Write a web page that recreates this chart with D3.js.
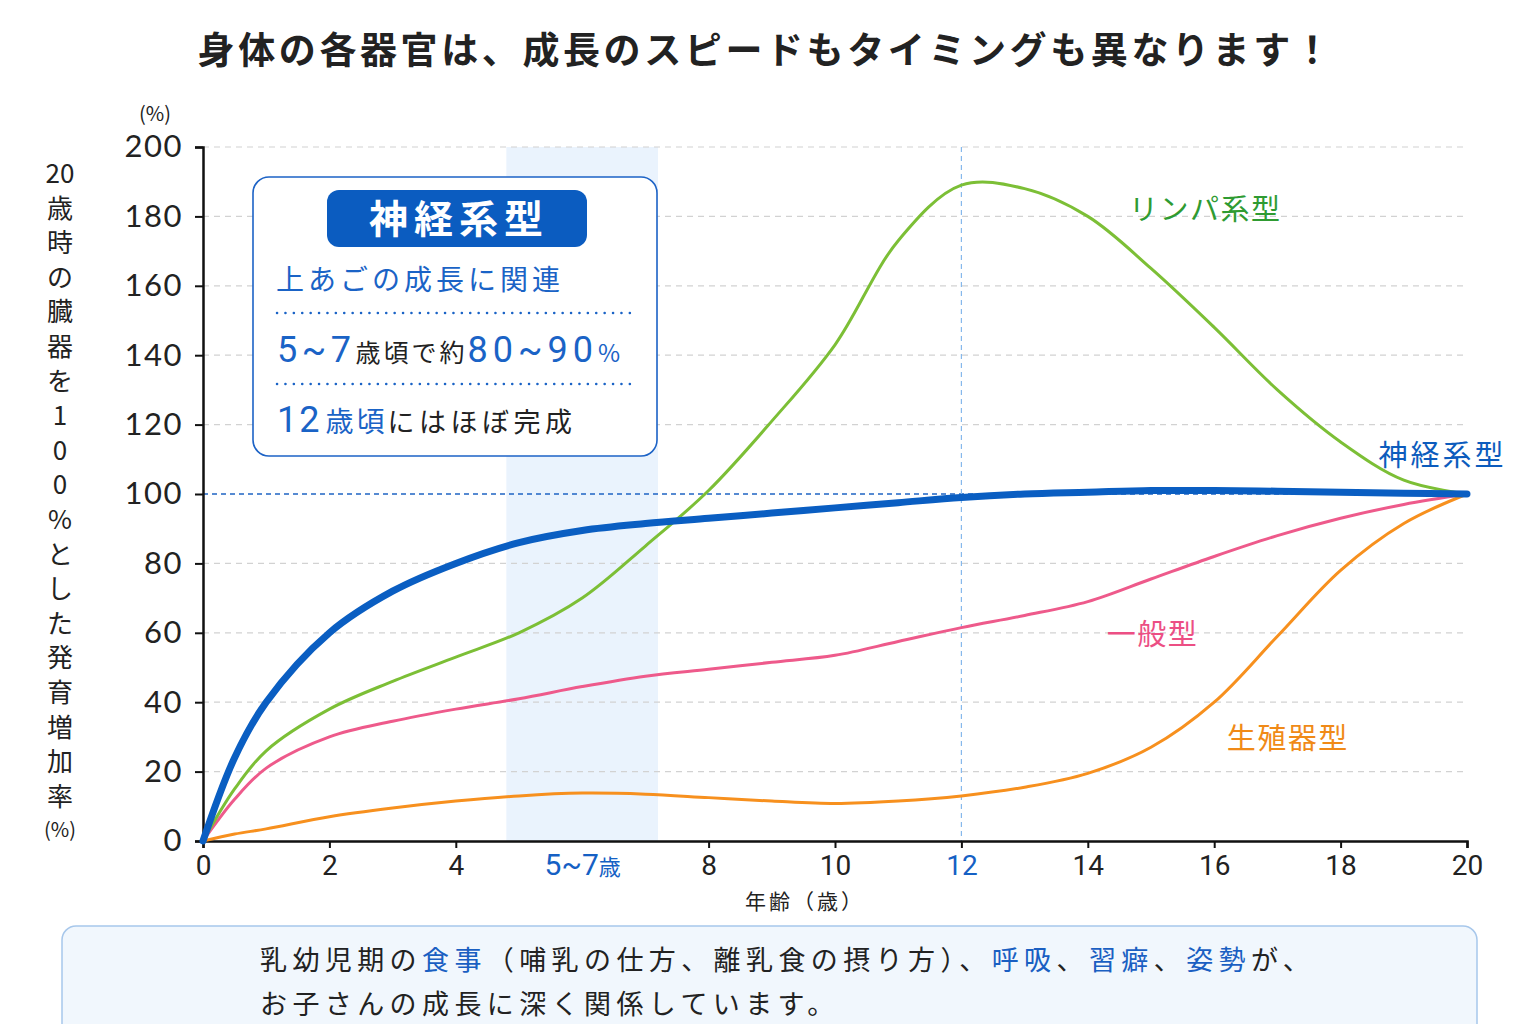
<!DOCTYPE html>
<html>
<head>
<meta charset="utf-8">
<script src="https://cdn.jsdelivr.net/npm/d3@7"></script>
<style>
  body { margin: 0; background: #fff; }
  svg { display: block; font-family: "Noto Sans CJK JP", "Noto Sans", sans-serif; }
</style>
</head>
<body>
<div id="chart"></div>
<script>
(function(){
  // data (age in years, % of the value at 20)
  const ages = [0, 0.5, 1, 2, 3, 4, 5, 6, 7, 8, 9, 10, 11, 12, 13, 14, 15, 16, 17, 18, 19, 20];
  const neural   = [0, 24, 40, 60, 72, 80, 86, 89.5, 91.5, 93, 94.5, 96, 97.5, 99, 100, 100.5, 101, 101, 100.8, 100.5, 100.2, 100];
  const lymphoid = [0, 15, 26, 38, 46, 53, 60, 70, 85, 101, 121, 143, 173, 189, 188, 180, 165, 148, 130, 115, 104, 100];
  const general  = [0, 12, 21, 30, 34.5, 38, 41, 44.5, 47.5, 49.5, 51.5, 53.5, 57.5, 61.5, 65, 69, 75.5, 82, 88, 93, 97, 100];
  const genital  = [0, 2, 3.5, 7, 9.5, 11.5, 13, 13.8, 13.5, 12.5, 11.5, 10.8, 11.5, 13, 15.5, 19.5, 27, 40, 59, 78, 91.5, 100];

  const yTicks = [0, 20, 40, 60, 80, 100, 120, 140, 160, 180, 200];
  const xTicks = [0, 2, 4, 6, 8, 10, 12, 14, 16, 18, 20];
  const focusBand = [4.8, 7.2];
  const focusAge = 12;

  const seriesNames = ["一般型", "生殖器型", "リンパ系型", "神経系型"];
  const seriesColors = ["#ee5a8b", "#f7901e", "#7cbf36", "#0a5ec2"];
  const labelColors = ["#ec4f84", "#f08a17", "#2f9b32", "#0c5cbd"];
  // where each label sits, in chart units (age, %)
  const labelAges = [14.3, 16.2, 14.65, 18.6];
  const labelValues = [56.5, 26.5, 179, 108];

  const width = 1536, height = 1024;
  const margin = { left: 203, right: 69, top: 147, bottom: 183 };

  const svg = d3.select("#chart").append("svg")
    .attr("width", width).attr("height", height)
    .attr("viewBox", `0 0 ${width} ${height}`);

  const x = d3.scaleLinear().domain([0, 20]).range([margin.left, width - margin.right]);
  const y = d3.scaleLinear().domain([0, 200]).range([height - margin.bottom, margin.top]);

  // title
  svg.append("text")
    .attr("x", 766).attr("y", 64)
    .attr("text-anchor", "middle")
    .attr("font-size", 37).attr("font-weight", 700)
    .attr("letter-spacing", 3.6)
    .attr("fill", "#222")
    .text("身体の各器官は、成長のスピードもタイミングも異なります！");

  // shaded 5~7 band
  svg.append("rect")
    .attr("x", x(focusBand[0])).attr("y", y(200))
    .attr("width", x(focusBand[1]) - x(focusBand[0]))
    .attr("height", y(0) - y(200))
    .attr("fill", "#eaf3fd");

  // grid
  svg.append("g").selectAll("line")
    .data(yTicks.filter(d => d !== 0 && d !== 100))
    .join("line")
    .attr("x1", x(0)).attr("x2", x(20))
    .attr("y1", d => y(d)).attr("y2", d => y(d))
    .attr("stroke", "#d2d2d2").attr("stroke-width", 1.2)
    .attr("stroke-dasharray", "6,5");

  svg.append("line")
    .attr("x1", x(0)).attr("x2", x(20))
    .attr("y1", y(100)).attr("y2", y(100))
    .attr("stroke", "#1f64c4").attr("stroke-width", 1.3)
    .attr("stroke-dasharray", "5,4");

  svg.append("line")
    .attr("x1", x(focusAge)).attr("x2", x(focusAge))
    .attr("y1", y(200)).attr("y2", y(0))
    .attr("stroke", "#86b8ec").attr("stroke-width", 1.2)
    .attr("stroke-dasharray", "5,4");

  // axes
  const yAxis = svg.append("g")
    .attr("transform", `translate(${x(0)},0)`)
    .call(d3.axisLeft(y).tickValues(yTicks).tickSize(8).tickPadding(12));
  yAxis.select(".domain").attr("stroke", "#111").attr("stroke-width", 2.5);
  yAxis.selectAll(".tick line").attr("stroke", "#111").attr("stroke-width", 2);
  yAxis.selectAll(".tick text")
    .attr("font-family", "Lato, 'Noto Sans', sans-serif")
    .attr("font-size", 31).attr("letter-spacing", 1.5).attr("fill", "#222");

  const xAxis = svg.append("g")
    .attr("transform", `translate(0,${y(0)})`)
    .call(d3.axisBottom(x).tickValues(xTicks).tickSize(7).tickPadding(8).tickFormat(""));
  xAxis.select(".domain").attr("stroke", "#111").attr("stroke-width", 2.5);
  xAxis.selectAll(".tick line").attr("stroke", "#111").attr("stroke-width", 2)
    .attr("display", d => d === 6 ? "none" : null);

  xAxis.selectAll(".tick").each(function(d) {
    const t = d3.select(this).append("text")
      .attr("y", 34).attr("text-anchor", "middle")
      .attr("font-family", "'Roboto', 'Noto Sans', sans-serif")
      .attr("font-size", 28)
      .attr("fill", d === 12 || d === 6 ? "#1560c4" : "#222");
    if (d === 6) {
      t.append("tspan").attr("font-size", 30).text("5~7");
      t.append("tspan").attr("font-size", 22).attr("font-family", "'Noto Sans CJK JP'").text("歳");
    } else {
      t.text(d);
    }
  });

  svg.append("text")
    .attr("x", 805).attr("y", 909)
    .attr("text-anchor", "middle")
    .attr("font-size", 21).attr("letter-spacing", 3).attr("fill", "#222")
    .text("年齢（歳）");

  // y axis title (vertical, one glyph per row)
  svg.append("text")
    .attr("x", 155).attr("y", 121).attr("text-anchor", "middle")
    .attr("font-size", 20).attr("fill", "#222").text("(%)");

  const yTitle = ["20", "歳", "時", "の", "臓", "器", "を", "1", "0", "0", "%", "と", "し", "た", "発", "育", "増", "加", "率"];
  svg.append("g").selectAll("text")
    .data(yTitle)
    .join("text")
    .attr("x", 60)
    .attr("y", (d, i) => 183 + i * 34.6)
    .attr("text-anchor", "middle")
    .attr("font-size", 26).attr("fill", "#222")
    .text(d => d);
  svg.append("text")
    .attr("x", 60).attr("y", 837).attr("text-anchor", "middle")
    .attr("font-size", 20).attr("fill", "#222").text("(%)");

  // curves
  const allSeries = [general, genital, lymphoid, neural];
  const widths = [3, 3, 3, 7];
  const line = d3.line()
    .x((d, i) => x(ages[i]))
    .y(d => y(d))
    .curve(d3.curveCatmullRom.alpha(0.5));

  svg.append("g").selectAll("path")
    .data(allSeries)
    .join("path")
    .attr("d", d => line(d))
    .attr("fill", "none")
    .attr("stroke", (d, i) => seriesColors[i])
    .attr("stroke-width", (d, i) => widths[i])
    .attr("stroke-linecap", "round");

  // series labels
  svg.append("g").selectAll("text")
    .data(seriesNames)
    .join("text")
    .attr("x", (d, i) => x(labelAges[i]))
    .attr("y", (d, i) => y(labelValues[i]))
    .attr("font-size", 29).attr("letter-spacing", (d, i) => i === 3 ? 3 : 1.5)
    .attr("fill", (d, i) => labelColors[i])
    .text(d => d);

  // info box
  const box = svg.append("g");
  box.append("rect")
    .attr("x", 253).attr("y", 177).attr("width", 404).attr("height", 279)
    .attr("rx", 16).attr("fill", "#fff")
    .attr("stroke", "#1d63c6").attr("stroke-width", 1.6);
  box.append("rect")
    .attr("x", 327).attr("y", 190).attr("width", 260).attr("height", 57)
    .attr("rx", 12).attr("fill", "#0b5cc0");
  box.append("text")
    .attr("x", 459).attr("y", 233).attr("text-anchor", "middle")
    .attr("font-size", 39).attr("font-weight", 700).attr("letter-spacing", 6)
    .attr("fill", "#fff").text("神経系型");
  box.append("text")
    .attr("x", 276).attr("y", 290)
    .attr("font-size", 28).attr("letter-spacing", 4).attr("fill", "#1a63c6")
    .text("上あごの成長に関連");
  box.selectAll("line.dot")
    .data([313, 384])
    .join("line")
    .attr("x1", 277).attr("x2", 630)
    .attr("y1", d => d).attr("y2", d => d)
    .attr("stroke", "#1a63c6").attr("stroke-width", 2.5)
    .attr("stroke-linecap", "round")
    .attr("stroke-dasharray", "0.1,8.3");

  const l2 = box.append("text").attr("x", 277).attr("y", 362).attr("fill", "#1a63c6");
  l2.append("tspan").attr("font-size", 36).attr("letter-spacing", 4.5).attr("font-family", "Roboto, sans-serif").text("5~7");
  l2.append("tspan").attr("font-size", 25).attr("letter-spacing", 3).attr("fill", "#222").text("歳頃で約");
  l2.append("tspan").attr("font-size", 36).attr("letter-spacing", 5).attr("font-family", "Roboto, sans-serif").text("80~90");
  l2.append("tspan").attr("font-size", 24).text("%");

  const l3 = box.append("text").attr("x", 277).attr("y", 432).attr("fill", "#1a63c6");
  l3.append("tspan").attr("font-size", 36).attr("letter-spacing", 2).attr("font-family", "Roboto, sans-serif").text("12");
  l3.append("tspan").attr("font-size", 28).attr("letter-spacing", 3).attr("dx", 4).text("歳頃");
  l3.append("tspan").attr("font-size", 27).attr("fill", "#222").attr("letter-spacing", 4.5).text("にはほぼ完成");

  // bottom note
  svg.append("rect")
    .attr("x", 62).attr("y", 926).attr("width", 1415).attr("height", 130)
    .attr("rx", 14).attr("fill", "#f1f7fd")
    .attr("stroke", "#a7c7eb").attr("stroke-width", 1.5);

  const note1 = [
    ["乳幼児期の", "#222"], ["食事", "#1a5fc2"], ["（哺乳の仕方、離乳食の摂り方）、", "#222"],
    ["呼吸", "#1a5fc2"], ["、", "#222"], ["習癖", "#1a5fc2"], ["、", "#222"],
    ["姿勢", "#1a5fc2"], ["が、", "#222"]
  ];
  const t1 = svg.append("text").attr("x", 260).attr("y", 970)
    .attr("font-size", 27).attr("letter-spacing", 5.4);
  note1.forEach(([s, c]) => t1.append("tspan").attr("fill", c).text(s));
  svg.append("text").attr("x", 260).attr("y", 1014)
    .attr("font-size", 27).attr("letter-spacing", 5.4).attr("fill", "#222")
    .text("お子さんの成長に深く関係しています。");
})();
</script>
</body>
</html>
